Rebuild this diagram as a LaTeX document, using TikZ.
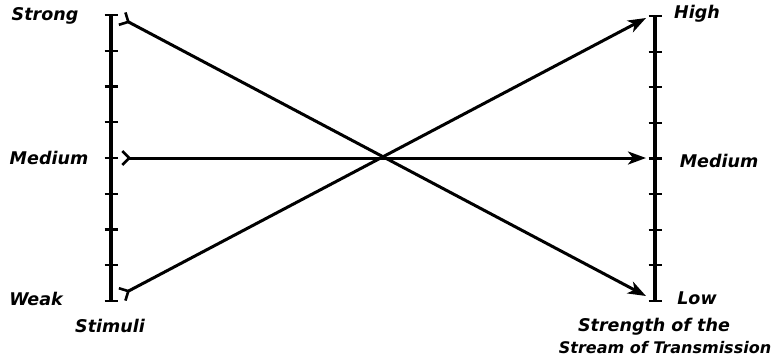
\documentclass[tikz,border=0pt]{standalone}
\usepackage{fontspec}
\setmainfont{DejaVu Sans}
\usetikzlibrary{arrows.meta}
\begin{document}
\begin{tikzpicture}[x=1pt,y=-1pt,
  axisline/.style={line width=3.3pt},
  tickmark/.style={line width=2.2pt},
  ray/.style={line width=3pt,
    {Straight Barb[reversed,length=7pt,width=14pt,line width=2.6pt]}-{Stealth[length=18pt,width=13pt,inset=5pt]}},
  lbl/.style={font=\fontsize{17.5}{20}\selectfont\bfseries\itshape, inner sep=0pt}]
\useasboundingbox (0,0) rectangle (774,360);
% axes
\coordinate (Ltop) at (111,15);
\coordinate (Lbot) at (111,301);
\coordinate (Rtop) at (655,16);
\coordinate (Rbot) at (655,301);
\draw[axisline] (Ltop) -- (Lbot);
\draw[axisline] (Rtop) -- (Rbot);
\foreach \i in {0,...,8}{
  \draw[tickmark] ([xshift=-6.5pt,yshift=-\i*35.75pt]Ltop) -- ([xshift=6.5pt,yshift=-\i*35.75pt]Ltop);
  \draw[tickmark] ([xshift=-6.5pt,yshift=-\i*35.6pt]Rtop) -- ([xshift=6.5pt,yshift=-\i*35.6pt]Rtop);
}
% rays
\coordinate (s1) at (121,18);
\coordinate (s2) at (121,158);
\coordinate (s3) at (121,295);
\coordinate (e1) at (646,296);
\coordinate (e2) at (646,158);
\coordinate (e3) at (646,18);
\draw[ray] (s1) -- (e1);
\draw[ray] (s2) -- (e2);
\draw[ray] (s3) -- (e3);
% labels
\node[lbl] (strong) at (45,16) {Strong};
\node[lbl] (medl) at (49,158) {Medium};
\node[lbl] (weak) at (36,299) {Weak};
\node[lbl] (stim) at (110,326) {Stimuli};
\node[lbl] (high) at (697,14) {High};
\node[lbl] (medr) at (719,161) {Medium};
\node[lbl] (low) at (697,298) {Low};
\node[lbl] (str1) at (654,327) {Strength of the};
\node[lbl,font=\fontsize{16}{19}\selectfont\bfseries\itshape] (str2) at (665,348) {Stream of Transmission};
\end{tikzpicture}
\end{document}
